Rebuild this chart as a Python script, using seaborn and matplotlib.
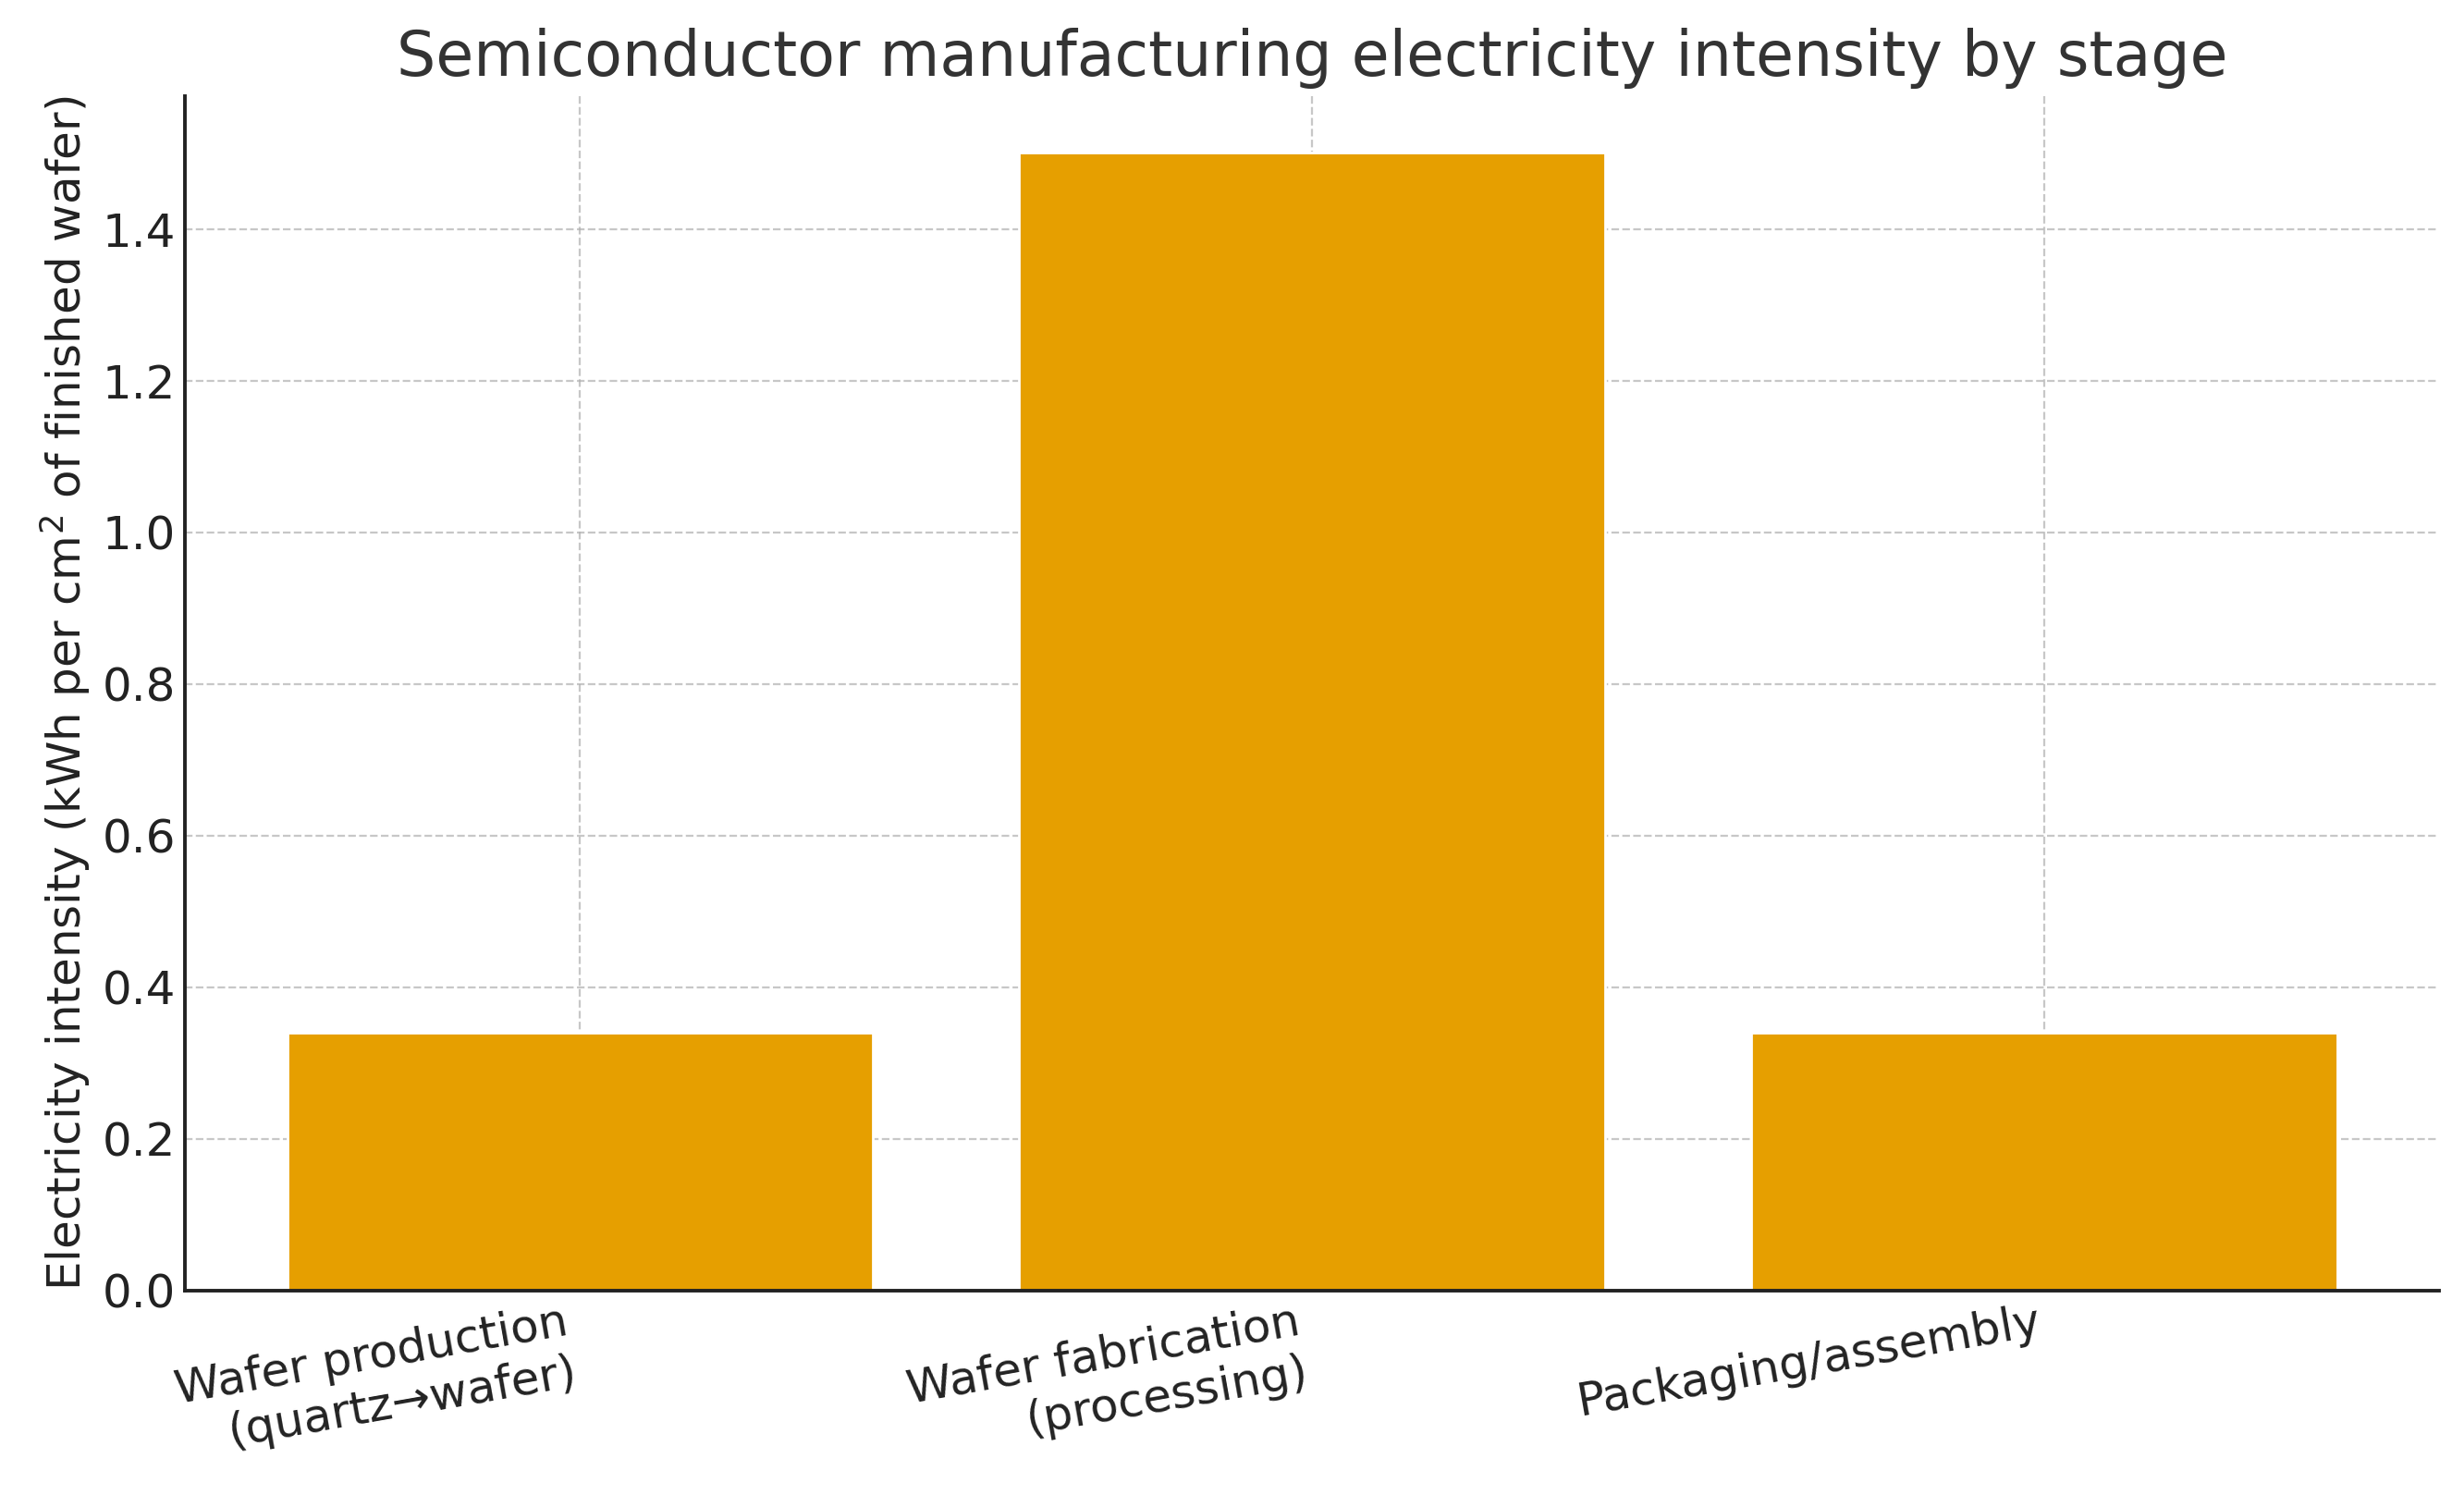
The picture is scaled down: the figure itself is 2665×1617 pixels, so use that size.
import matplotlib
matplotlib.use('Agg')
import matplotlib.pyplot as plt
import seaborn as sns
import pandas as pd

# data
stages = ['Wafer production\n(quartz\u2192wafer)', 'Wafer fabrication\n(processing)', 'Packaging/assembly']
intensity = [0.34, 1.50, 0.34]

df = pd.DataFrame({'stage': stages, 'kwh': intensity})

sns.set_style('white')
plt.rcParams['font.family'] = ['DejaVu Sans']

fig, ax = plt.subplots(figsize=(13.325, 8.085), dpi=200)

sns.barplot(data=df, x='stage', y='kwh', color='#E69F00', saturation=1,
            width=0.8, ax=ax, zorder=2)

ax.set_xlim(-0.54, 2.54)
ax.set_ylim(0, 1.575)
ax.grid(True, linestyle='--', color='#b0b0b0', alpha=0.7, linewidth=0.8, zorder=0)
ax.set_axisbelow(True)

ax.set_title('Semiconductor manufacturing electricity intensity by stage',
             fontsize=24, color='#333333', pad=8)
ax.set_ylabel('Electricity intensity (kWh per cm$^2$ of finished wafer)',
              fontsize=18, color='#222222')
ax.set_xlabel('')
ax.tick_params(axis='both', labelsize=18, length=5, width=1.4,
               direction='in', colors='#222222')
plt.setp(ax.get_xticklabels(), rotation=10, ha='right')

for side in ['top', 'right']:
    ax.spines[side].set_visible(False)
for side in ['left', 'bottom']:
    ax.spines[side].set_linewidth(1.4)
    ax.spines[side].set_color('#222222')

fig.subplots_adjust(left=0.075, right=0.99, top=0.9357, bottom=0.1367)
fig.savefig('out.png', dpi=200, facecolor='white')
plt.close(fig)
